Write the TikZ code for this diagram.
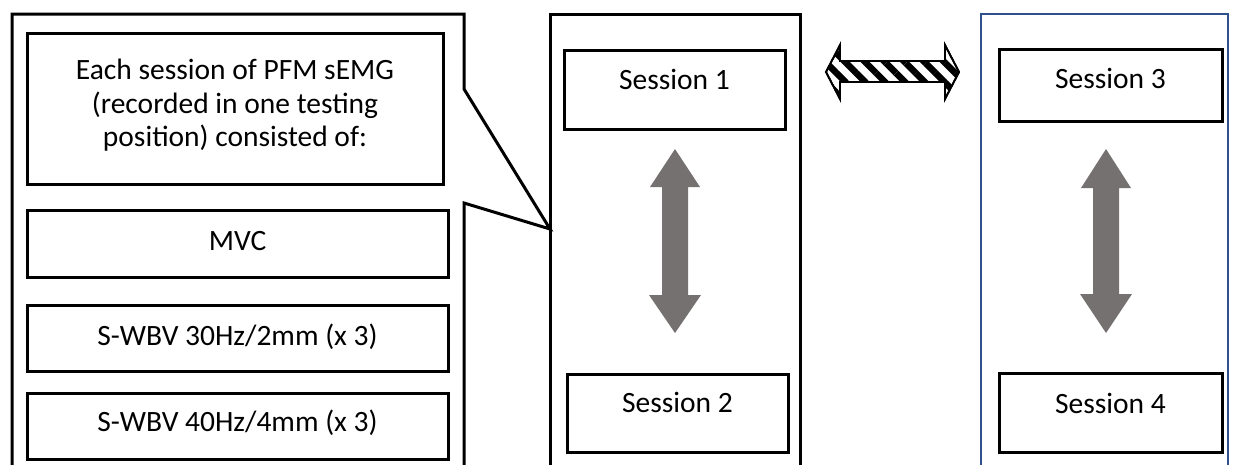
\documentclass[tikz,border=0pt]{standalone}
\usepackage{fontspec}
\setmainfont{Carlito}
\usetikzlibrary{patterns.meta}
\definecolor{arrgray}{RGB}{118,113,113}
\definecolor{boxblue}{RGB}{47,82,143}
\begin{document}
\begin{tikzpicture}[x=1pt,y=-1pt,
  frame/.style={draw=black,line width=3pt},
  blueframe/.style={draw=boxblue,line width=2.2pt},
  ibox/.style={draw=black,line width=3pt},
  txt/.style={anchor=base,inner sep=0pt,font=\fontsize{29.5}{34}\selectfont},
  grayarrow/.style={fill=arrgray,draw=none},
  hatcharrow/.style={draw=black,line width=1.8pt,fill=white}]
\useasboundingbox (0,0) rectangle (1234,464);
\clip (0,0) rectangle (1234,464);
% left callout frame
\coordinate (tip) at (550,229);
\draw[frame] (12,480) -- (12,14) -- (464,14) -- (464,89) -- (tip) -- (464,203) -- (464,480);
% inner boxes on the left
\draw[ibox] (27,33) rectangle (443,184);
\node[txt] (e1) at (235,79.5) {Each session of PFM sEMG};
\node[txt] (e2) at (235,113) {(recorded in one testing};
\node[txt] (e3) at (235,146.5) {position) consisted of:};
\draw[ibox] (27,210) rectangle (448,277);
\node[txt] (mvc) at (237.5,250) {MVC};
\draw[ibox] (27,305) rectangle (448,371);
\node[txt] (w30) at (237.5,345) {S-WBV 30Hz/2mm (x 3)};
\draw[ibox] (27,393) rectangle (448,459);
\node[txt] (w40) at (237.5,431) {S-WBV 40Hz/4mm (x 3)};
% middle frame
\draw[frame] (550,480) -- (550,14) -- (800,14) -- (800,480);
\draw[ibox] (564,50) rectangle (785,129);
\node[txt] (s1) at (674.5,89) {Session 1};
\draw[ibox] (567,374) rectangle (788,452);
\node[txt] (s2) at (677.5,412) {Session 2};
\fill[grayarrow] (675,149) -- (700,187) -- (688,187) -- (688,295) -- (701,295) -- (675,333)
  -- (649,295) -- (662,295) -- (662,187) -- (650,187) -- cycle;
% right frame
\draw[blueframe] (981,480) -- (981,14) -- (1228,14) -- (1228,480);
\draw[ibox] (999,49) rectangle (1222,121);
\node[txt] (s3) at (1110.5,88) {Session 3};
\draw[ibox] (999,373) rectangle (1222,452);
\node[txt] (s4) at (1110.5,413) {Session 4};
\fill[grayarrow] (1106,149) -- (1131,188) -- (1119,188) -- (1119,294) -- (1132,294) -- (1106,333)
  -- (1080,294) -- (1093,294) -- (1093,188) -- (1081,188) -- cycle;
% hatched double arrow
\path[hatcharrow] (826,72) -- (840,45) -- (840,61) -- (945,61) -- (945,45) -- (959,72)
  -- (945,99) -- (945,82) -- (840,82) -- (840,99) -- cycle;
\fill[pattern={Lines[angle=-45,distance=14pt,line width=6.5pt]},pattern color=black]
  (826,72) -- (840,45) -- (840,61) -- (945,61) -- (945,45) -- (959,72)
  -- (945,99) -- (945,82) -- (840,82) -- (840,99) -- cycle;
\draw[draw=black,line width=1.8pt] (826,72) -- (840,45) -- (840,61) -- (945,61) -- (945,45) -- (959,72)
  -- (945,99) -- (945,82) -- (840,82) -- (840,99) -- cycle;
\end{tikzpicture}
\end{document}
